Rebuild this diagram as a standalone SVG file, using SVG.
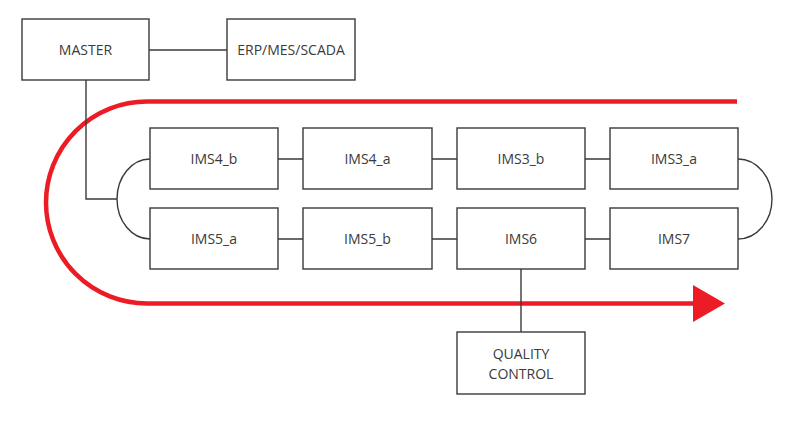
<svg xmlns="http://www.w3.org/2000/svg" width="792" height="426" viewBox="0 0 792 426">
<style>
.box{fill:#fff;stroke:#3a3a3a;stroke-width:1.4}
.lbl{font-family:"Open Sans","Liberation Sans",sans-serif;font-size:14px;fill:#3a3a3a;text-anchor:middle}
.con{fill:none;stroke:#3a3a3a;stroke-width:1.4}
.flow{fill:none;stroke:#ed1c24;stroke-width:4.5}
</style>
<defs>
<marker id="ah" markerUnits="userSpaceOnUse" markerWidth="34" markerHeight="38" refX="2" refY="19" orient="auto">
<polygon points="0,0.5 32,19 0,37.5" fill="#ed1c24"/>
</marker>
</defs>
<g id="flow">
<path class="flow" d="M737,101.5 H147 A101,101 0 0 0 147,303.5 H695" marker-end="url(#ah)"/>
</g>
<g id="connectors">
<path class="con" d="M149,50 H227"/>
<path class="con" d="M86,80 V199 H117"/>
<path class="con" d="M150,159 A33,40 0 0 0 150,239"/>
<path class="con" d="M738,159 A34,40 0 0 1 738,239"/>
<path class="con" d="M278,159 H303 M432,159 H457 M585,159 H610"/>
<path class="con" d="M278,239 H303 M432,239 H457 M585,239 H610"/>
<path class="con" d="M521,269 V332"/>
</g>
<g id="master"><rect class="box" x="22" y="19" width="127" height="61"/><text class="lbl" x="85.5" y="55">MASTER</text></g>
<g id="erp"><rect class="box" x="227" y="19" width="128" height="61"/><text class="lbl" x="291" y="55">ERP/MES/SCADA</text></g>
<g id="ims4b"><rect class="box" x="150" y="128" width="128" height="61"/><text class="lbl" x="214" y="164">IMS4_b</text></g>
<g id="ims4a"><rect class="box" x="303" y="128" width="129" height="61"/><text class="lbl" x="367.5" y="164">IMS4_a</text></g>
<g id="ims3b"><rect class="box" x="457" y="128" width="128" height="61"/><text class="lbl" x="521" y="164">IMS3_b</text></g>
<g id="ims3a"><rect class="box" x="610" y="128" width="128" height="61"/><text class="lbl" x="674" y="164">IMS3_a</text></g>
<g id="ims5a"><rect class="box" x="150" y="208" width="128" height="61"/><text class="lbl" x="214" y="244">IMS5_a</text></g>
<g id="ims5b"><rect class="box" x="303" y="208" width="129" height="61"/><text class="lbl" x="367.5" y="244">IMS5_b</text></g>
<g id="ims6"><rect class="box" x="457" y="208" width="128" height="61"/><text class="lbl" x="521" y="244">IMS6</text></g>
<g id="ims7"><rect class="box" x="610" y="208" width="128" height="61"/><text class="lbl" x="674" y="244">IMS7</text></g>
<g id="qc"><rect class="box" x="457" y="332" width="128" height="62"/><text class="lbl" x="521" y="359">QUALITY</text><text class="lbl" x="521" y="379">CONTROL</text></g>
</svg>
